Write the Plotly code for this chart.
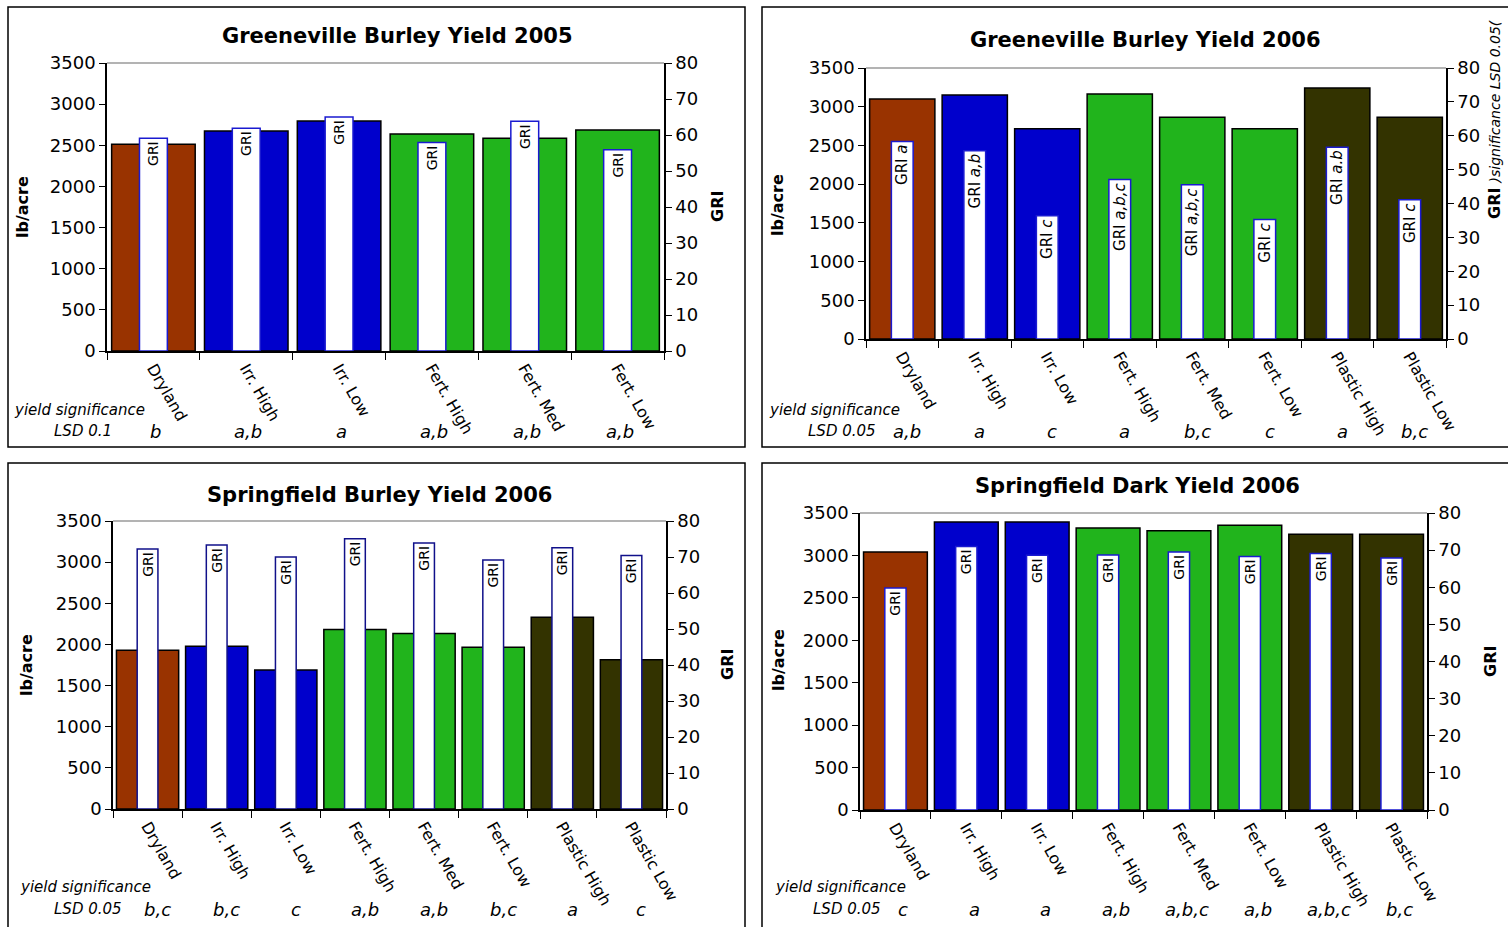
import plotly.graph_objects as go

W, H = 1508, 927
FONT = "DejaVu Sans, Liberation Sans, Arial, sans-serif"

# ---------------- data ----------------
cats6 = ["Dryland", "Irr. High", "Irr. Low", "Fert. High", "Fert. Med", "Fert. Low"]
cats8 = ["Dryland", "Irr. High", "Irr. Low", "Fert. High", "Fert. Med", "Fert. Low",
         "Plastic High", "Plastic Low"]

gb05_yield = [2514, 2673, 2794, 2636, 2587, 2685]
gb05_gri = [59.1, 61.9, 65.0, 57.9, 63.8, 55.9]
gb05_sig = ["b", "a,b", "a", "a,b", "a,b", "a,b"]

gb06_yield = [3100, 3151, 2716, 3164, 2863, 2716, 3242, 2863]
gb06_gri = [58.3, 55.6, 36.4, 47.1, 45.5, 35.3, 56.6, 41.1]
gb06_sig = ["a,b", "a", "c", "a", "b,c", "c", "a", "b,c"]
gb06_gri_sig = ["a", "a,b", "c", "a,b,c", "a,b,c", "c", "a.b", "c"]

sb06_yield = [1929, 1977, 1689, 2180, 2132, 1965, 2331, 1815]
sb06_gri = [72.2, 73.3, 70.0, 75.1, 73.9, 69.2, 72.6, 70.4]
sb06_sig = ["b,c", "b,c", "c", "a,b", "a,b", "b,c", "a", "c"]

sd06_yield = [3041, 3394, 3394, 3323, 3292, 3355, 3249, 3249]
sd06_gri = [59.8, 71.0, 68.6, 68.7, 69.5, 68.3, 69.1, 67.9]
sd06_sig = ["c", "a", "a", "a,b", "a,b,c", "a,b", "a,b,c", "b,c"]

group_colors = {"Dryland": "#993300", "Irr": "#0000CC", "Fert": "#21B41C", "Plastic": "#333300"}


def cat_color(c):
    for k, v in group_colors.items():
        if c.startswith(k):
            return v
    return "#999999"


def px(x):
    return x / W


def py(y):
    return 1 - y / H


# panel layout (pixel boxes)
panels = [
    dict(title="Greeneville Burley Yield 2005", cats=cats6, yld=gb05_yield, gri=gb05_gri,
         gtext=["GRI"] * 6, gsize=14, sig=gb05_sig, lsd="LSD 0.1",
         box=(107, 664, 63, 351), frame=(8, 745, 7, 447), tpos=(397, 36),
         lb=(22, 207), gr=(717, 207), ys=(12, 410), lsdp=(114, 431), sigy=431, sigshift=2,
         gline="#1a1ad0"),
    dict(title="Greeneville Burley Yield 2006", cats=cats8, yld=gb06_yield, gri=gb06_gri,
         gtext=["GRI <i>%s</i>" % s for s in gb06_gri_sig], gsize=15, sig=gb06_sig, lsd="LSD 0.05",
         box=(866, 1446, 68, 339), frame=(762, 1530, 7, 447), tpos=(1145, 40),
         lb=(778, 205), gr=None, ys=(767, 410), lsdp=(878, 431), sigy=431, sigshift=5,
         gline="#1a1ad0"),
    dict(title="Springfield Burley Yield 2006", cats=cats8, yld=sb06_yield, gri=sb06_gri,
         gtext=["GRI"] * 8, gsize=14, sig=sb06_sig, lsd="LSD 0.05",
         box=(113, 666, 521, 809), frame=(8, 745, 463, 960), tpos=(379, 495),
         lb=(26, 665), gr=(727, 665), ys=(18, 887), lsdp=(124, 909), sigy=909, sigshift=10,
         gline="#10108a"),
    dict(title="Springfield Dark Yield 2006", cats=cats8, yld=sd06_yield, gri=sd06_gri,
         gtext=["GRI"] * 8, gsize=14, sig=sd06_sig, lsd="LSD 0.05",
         box=(860, 1427, 513, 810), frame=(762, 1530, 463, 960), tpos=(1137, 486),
         lb=(778, 660), gr=(1490, 662), ys=(773, 887), lsdp=(883, 909), sigy=909, sigshift=8,
         gline="#1a1ad0"),
]

fig = go.Figure()
layout = dict(
    autosize=True, margin=dict(l=0, r=0, t=0, b=0, pad=0, autoexpand=False),
    paper_bgcolor="white", plot_bgcolor="white",
    font=dict(family=FONT, color="black"),
    showlegend=False, barmode="overlay",
)
shapes = []
annotations = []

for i, p in enumerate(panels, start=1):
    xname = "x" if i == 1 else "x%d" % i
    yl = "y%d" % (2 * i - 1) if (2 * i - 1) > 1 else "y"
    yr = "y%d" % (2 * i)
    xkey = "xaxis" if i == 1 else "xaxis%d" % i
    ylkey = "yaxis" if yl == "y" else "yaxis%d" % (2 * i - 1)
    yrkey = "yaxis%d" % (2 * i)
    x0, x1, ytop, ybot = p["box"]

    fig.add_trace(go.Bar(
        x=p["cats"], y=p["yld"], xaxis=xname, yaxis=yl, width=0.9,
        marker=dict(color=[cat_color(c) for c in p["cats"]], line=dict(color="black", width=1.5)),
        name="Yield", hovertemplate="%{x}: %{y} lb/acre<extra></extra>",
    ))
    fig.add_trace(go.Bar(
        x=p["cats"], y=p["gri"], xaxis=xname, yaxis=yr, width=0.3,
        marker=dict(color="white", line=dict(color=p["gline"], width=1.5)),
        text=p["gtext"], textposition="inside", insidetextanchor="end", textangle=-90,
        textfont=dict(size=p["gsize"], color="black", family=FONT), constraintext="none",
        name="GRI", hovertemplate="%{x}: GRI %{y}<extra></extra>",
    ))

    layout[xkey] = dict(
        domain=[px(x0), px(x1)], anchor=yl, type="category", automargin=False,
        tickson="boundaries", ticks="outside", ticklen=7, tickcolor="black",
        showline=True, linecolor="black", linewidth=1.5, showgrid=False,
        tickangle=60, tickfont=dict(size=16, family=FONT),
    )
    layout[ylkey] = dict(
        domain=[py(ybot), py(ytop)], anchor=xname, range=[0, 3500], dtick=500, automargin=False,
        ticks="outside", ticklen=6, tickcolor="black", showline=True, linecolor="black",
        linewidth=1.5, showgrid=False, zeroline=False, tickfont=dict(size=18, family=FONT),
    )
    layout[yrkey] = dict(
        overlaying=yl, side="right", anchor=xname, range=[0, 80], dtick=10, automargin=False,
        ticks="outside", ticklen=6, tickcolor="black", showline=True, linecolor="black",
        linewidth=1.5, showgrid=False, zeroline=False, tickfont=dict(size=18, family=FONT),
    )

    # frame
    fx0, fx1, fy0, fy1 = p["frame"]
    shapes.append(dict(type="rect", xref="paper", yref="paper", x0=px(fx0), x1=px(fx1),
                       y0=py(fy1), y1=py(fy0), line=dict(color="black", width=1.5)))
    # grey top border of plot area
    shapes.append(dict(type="line", xref="paper", yref="paper", x0=px(x0), x1=px(x1),
                       y0=py(ytop), y1=py(ytop), line=dict(color="#9a9a9a", width=1.5)))

    annotations.append(dict(text="<b>%s</b>" % p["title"], x=px(p["tpos"][0]), y=py(p["tpos"][1]),
                            xref="paper", yref="paper", showarrow=False, xanchor="center",
                            yanchor="middle", font=dict(size=21, family=FONT)))
    annotations.append(dict(text="<b>lb/acre</b>", x=px(p["lb"][0]), y=py(p["lb"][1]),
                            xref="paper", yref="paper", showarrow=False, textangle=-90,
                            xanchor="center", yanchor="middle", font=dict(size=16, family=FONT)))
    if p["gr"] is not None:
        annotations.append(dict(text="<b>GRI</b>", x=px(p["gr"][0]), y=py(p["gr"][1]),
                                xref="paper", yref="paper", showarrow=False, textangle=-90,
                                xanchor="center", yanchor="middle", font=dict(size=16, family=FONT)))
    else:
        annotations.append(dict(
            text="<b>GRI</b> <i><span style='font-size:14px'>)significance LSD 0.05(</span></i>",
            x=px(1494), y=py(120), xref="paper", yref="paper", showarrow=False, textangle=-90,
            xanchor="center", yanchor="middle", font=dict(size=16, family=FONT)))
    annotations.append(dict(text="<i>yield significance</i>", x=px(p["ys"][0]), y=py(p["ys"][1]),
                            xref="paper", yref="paper", showarrow=False, xanchor="left",
                            yanchor="middle", font=dict(size=15, family=FONT)))
    annotations.append(dict(text="<i>%s</i>" % p["lsd"], x=px(p["lsdp"][0]), y=py(p["lsdp"][1]),
                            xref="paper", yref="paper", showarrow=False, xanchor="right",
                            yanchor="middle", font=dict(size=15, family=FONT)))
    for c, s in zip(p["cats"], p["sig"]):
        annotations.append(dict(text="<i>%s</i>" % s, x=c, xref=xname, y=py(p["sigy"]),
                                yref="paper", showarrow=False, xanchor="center", yanchor="middle",
                                xshift=p["sigshift"], font=dict(size=18, family=FONT)))

layout["shapes"] = shapes
layout["annotations"] = annotations
fig.update_layout(**layout)

fig.write_html(
    "out.html",
    config={"displayModeBar": False, "responsive": True},
    default_width="100vw", default_height="100vh",
    post_script=("document.documentElement.style.margin='0';"
                 "document.body.style.margin='0';document.body.style.padding='0';"
                 "document.documentElement.style.overflow='hidden';"
                 "document.body.style.overflow='hidden';"
                 "Plotly.Plots.resize(document.getElementById('{plot_id}'));"),
)
